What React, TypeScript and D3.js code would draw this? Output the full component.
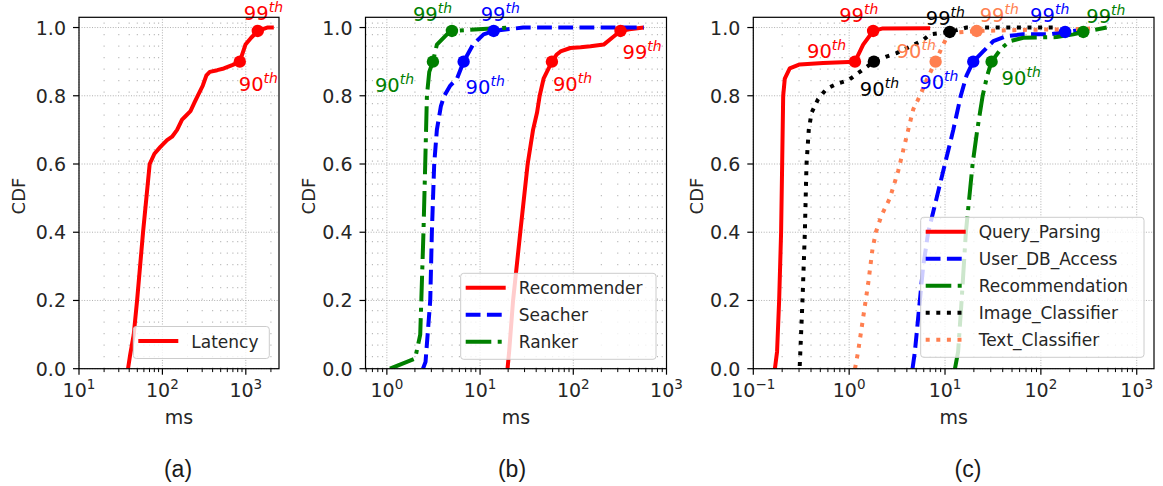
import React from 'react';
import * as d3 from 'd3';

type Pt = [number, number];

// ---------------- DATA ----------------
// Panel (a)
const latency: Pt[] = [
  [38.7, 0], [41, 0.04], [45.3, 0.1], [49.7, 0.2], [58.6, 0.4], [70.4, 0.6], [80.2, 0.63],
  [94.6, 0.65], [113.7, 0.67], [130.6, 0.68], [150, 0.7], [172, 0.73], [189, 0.74],
  [217, 0.755], [242, 0.78], [265, 0.8], [305, 0.83], [337, 0.86], [370, 0.87], [454, 0.875],
  [545, 0.88], [687, 0.89], [847, 0.9], [931, 0.93], [991, 0.95], [1159, 0.97], [1393, 0.99],
  [1803, 1.0], [2167, 1.0],
];
const latencyPct: Pt[] = [[847, 0.9], [1393, 0.99]];

// Panel (b)
const recommender: Pt[] = [
  [19.7, 0], [20.5, 0.05], [22.6, 0.2], [27, 0.4], [32.4, 0.6], [37, 0.7], [40.8, 0.75],
  [43.6, 0.8], [48, 0.85], [59, 0.9], [66, 0.92], [73, 0.93], [93, 0.94], [120, 0.942],
  [153, 0.945], [212, 0.95], [261, 0.97], [321, 0.99], [400, 0.995], [570, 1.0],
];
const recommenderPct: Pt[] = [[59, 0.9], [321, 0.99]];
const searcher: Pt[] = [
  [2.44, 0], [2.6, 0.02], [2.92, 0.2], [3.04, 0.4], [3.22, 0.6], [3.44, 0.7], [3.8, 0.77],
  [4.13, 0.8], [4.79, 0.83], [5.65, 0.85], [6.66, 0.9], [8.4, 0.95], [10.9, 0.98], [14, 0.99],
  [29, 1.0], [570, 1.0],
];
const searcherPct: Pt[] = [[6.66, 0.9], [14, 0.99]];
const ranker: Pt[] = [
  [1.08, 0], [1.64, 0.02], [2.01, 0.03], [2.28, 0.1], [2.47, 0.4], [2.58, 0.6], [2.69, 0.8],
  [2.85, 0.87], [3.12, 0.9], [3.44, 0.95], [4.41, 0.98], [4.99, 0.99], [20.2, 1.0],
];
const rankerPct: Pt[] = [[3.12, 0.9], [4.99, 0.99]];

// Panel (c)
const queryParsing: Pt[] = [
  [0.168, 0], [0.177, 0.05], [0.186, 0.2], [0.195, 0.4], [0.2, 0.6], [0.205, 0.8],
  [0.213, 0.85], [0.24, 0.88], [0.305, 0.892], [0.535, 0.896], [1.15, 0.9], [1.4, 0.95],
  [1.78, 0.99], [2.2, 0.997], [7, 0.998],
];
const queryParsingPct: Pt[] = [[1.15, 0.9], [1.78, 0.99]];
const userDbAccess: Pt[] = [
  [4.58, 0], [4.85, 0.05], [5.25, 0.15], [5.92, 0.3], [6.68, 0.4], [8.17, 0.5], [9.98, 0.6],
  [12.2, 0.7], [14.6, 0.8], [16.8, 0.86], [19.7, 0.9], [25, 0.93], [31.9, 0.96], [44, 0.975],
  [65.5, 0.98], [124, 0.98], [179, 0.987], [301, 0.995],
];
const userDbAccessPct: Pt[] = [[19.7, 0.9], [179, 0.987]];
const recommendation: Pt[] = [
  [12.7, 0], [13.7, 0.05], [14.9, 0.2], [16.5, 0.4], [17.9, 0.5], [19.4, 0.6], [21.7, 0.7],
  [24.7, 0.8], [27.6, 0.86], [30.6, 0.9], [38.9, 0.94], [47.6, 0.96], [65.5, 0.97],
  [146, 0.972], [218, 0.98], [277, 0.987], [486, 1.0],
];
const recommendationPct: Pt[] = [[30.6, 0.9], [277, 0.987]];
const imageClassifier: Pt[] = [
  [0.305, 0.008], [0.326, 0.2], [0.345, 0.4], [0.359, 0.6], [0.379, 0.7], [0.405, 0.75],
  [0.474, 0.79], [0.58, 0.82], [0.738, 0.835], [0.977, 0.845], [1.29, 0.87], [1.81, 0.9],
  [2.45, 0.915], [3.12, 0.925], [4.3, 0.944], [5.9, 0.963], [6.96, 0.98], [11.2, 0.987],
  [16.8, 1.0], [150, 1.0],
];
const imageClassifierPct: Pt[] = [[1.81, 0.9], [11.2, 0.987]];
const textClassifier: Pt[] = [
  [1.15, 0], [1.24, 0.05], [1.4, 0.15], [1.58, 0.25], [1.75, 0.35], [1.9, 0.4], [2.18, 0.45],
  [2.66, 0.5], [3.25, 0.58], [3.97, 0.68], [4.66, 0.76], [5.47, 0.8], [6.52, 0.85],
  [7.98, 0.9], [9.2, 0.94], [10.4, 0.97], [12.2, 0.985], [21.4, 0.99], [65.5, 0.993],
  [201, 0.995], [326, 0.997],
];
const textClassifierPct: Pt[] = [[7.98, 0.9], [21.4, 0.99]];

const yTickValues = [0, 0.2, 0.4, 0.6, 0.8, 1.0];
const yTickLabels = ['0.0', '0.2', '0.4', '0.6', '0.8', '1.0'];
const pctLabels = ['90', '99'];
const captions = ['(a)', '(b)', '(c)'];

// ---------------- STYLE / LAYOUT ----------------
const W = 1163, H = 486;
const Y_TOP = 17.3, Y_BOT = 368.7, Y_MAX = 1.03;
const FONT = "'DejaVu Sans', sans-serif";
const LW = 4;
const DASH: Record<string, string | undefined> = {
  solid: undefined,
  dashed: `${3.7 * LW},${1.6 * LW}`,
  dashdot: `${6.4 * LW},${1.6 * LW},${1 * LW},${1.6 * LW}`,
  dotted: `${1 * LW},${1.65 * LW}`,
};
const RED = '#ff0000', BLUE = '#0000ff', GREEN = '#008000', BLACK = '#000000', CORAL = '#ff7f50';

interface Series { name: string; data: Pt[]; pct: Pt[]; color: string; dash: string; off: [number, number][] }
interface PanelCfg {
  domain: [number, number]; left: number; right: number; ylabelX: number;
  series: Series[]; legend: { x: number; y: number; w: number }; caption: string; captionX: number;
}

const panels: PanelCfg[] = [
  {
    domain: [10, 2500], left: 79, right: 279, ylabelX: 25,
    series: [
      { name: 'Latency', data: latency, pct: latencyPct, color: RED, dash: 'solid', off: [[-1, 29], [-14, -11]] },
    ],
    legend: { x: 133.3, y: 326.5, w: 136 }, caption: captions[0], captionX: 178,
  },
  {
    domain: [0.59, 1000], left: 365.5, right: 666.5, ylabelX: 315,
    series: [
      { name: 'Recommender', data: recommender, pct: recommenderPct, color: RED, dash: 'solid', off: [[1, 29], [2, 28]] },
      { name: 'Seacher', data: searcher, pct: searcherPct, color: BLUE, dash: 'dashed', off: [[2, 32], [-13, -10]] },
      { name: 'Ranker', data: ranker, pct: rankerPct, color: GREEN, dash: 'dashdot', off: [[-58, 30], [-39, -10]] },
    ],
    legend: { x: 460.7, y: 273.3, w: 195.3 }, caption: captions[1], captionX: 512,
  },
  {
    domain: [0.1, 1514], left: 753.3, right: 1154, ylabelX: 703,
    series: [
      { name: 'Query_Parsing', data: queryParsing, pct: queryParsingPct, color: RED, dash: 'solid', off: [[-48, -4], [-34, -9]] },
      { name: 'User_DB_Access', data: userDbAccess, pct: userDbAccessPct, color: BLUE, dash: 'dashed', off: [[-54, 27], [-35, -10]] },
      { name: 'Recommendation', data: recommendation, pct: recommendationPct, color: GREEN, dash: 'dashdot', off: [[10, 23], [3, -9]] },
      { name: 'Image_Classifier', data: imageClassifier, pct: imageClassifierPct, color: BLACK, dash: 'dotted', off: [[-14, 34], [-24, -7]] },
      { name: 'Text_Classifier', data: textClassifier, pct: textClassifierPct, color: CORAL, dash: 'dotted', off: [[-39, -4], [3, -9]] },
    ],
    legend: { x: 920.7, y: 217.3, w: 223.3 }, caption: captions[2], captionX: 968,
  },
];

function Panel({ p, idx }: { p: PanelCfg; idx: number }) {
  const x = d3.scaleLog().domain(p.domain).range([p.left, p.right]);
  const y = d3.scaleLinear().domain([0, Y_MAX]).range([Y_BOT, Y_TOP]);
  const lo = Math.floor(Math.log10(p.domain[0]));
  const hi = Math.ceil(Math.log10(p.domain[1]));
  const majors: number[] = [];
  const minors: number[] = [];
  for (let d = lo; d <= hi; d++) {
    const v = Math.pow(10, d);
    if (v >= p.domain[0] * 0.999 && v <= p.domain[1] * 1.001) majors.push(d);
    for (let k = 2; k <= 9; k++) {
      const m = k * v;
      if (m > p.domain[0] && m < p.domain[1]) minors.push(m);
    }
  }
  const line = d3.line<Pt>().x(d => x(d[0])).y(d => y(d[1]));
  const clipId = `clip${idx}`;
  const cx = (p.left + p.right) / 2;
  const lg = p.legend;
  const rowH = 27;
  const lgH = 14.5 + (p.series.length - 1) * rowH + 17.5;

  return (
    <g>
      <defs>
        <clipPath id={clipId}>
          <rect x={p.left} y={Y_TOP} width={p.right - p.left} height={Y_BOT - Y_TOP} />
        </clipPath>
      </defs>
      {/* minor grid */}
      {minors.map((m, i) => (
        <line key={'mg' + i} x1={x(m)} x2={x(m)} y1={Y_BOT} y2={Y_TOP} stroke="#b8b8b8" strokeWidth={1.1} strokeDasharray="1.2,10.3" />
      ))}
      {/* major grid */}
      {majors.map(d => (
        <line key={'gx' + d} x1={x(Math.pow(10, d))} x2={x(Math.pow(10, d))} y1={Y_BOT} y2={Y_TOP} stroke="#b0b0b0" strokeWidth={1} strokeDasharray="1,1.6" />
      ))}
      {yTickValues.map((v, i) => (
        <line key={'gy' + i} x1={p.left} x2={p.right} y1={y(v)} y2={y(v)} stroke="#b0b0b0" strokeWidth={1} strokeDasharray="1,1.6" />
      ))}
      {/* series */}
      <g clipPath={`url(#${clipId})`}>
        {p.series.map(s => (
          <path key={s.name} d={line(s.data) || ''} fill="none" stroke={s.color} strokeWidth={LW}
            strokeDasharray={DASH[s.dash]} strokeLinejoin="round" />
        ))}
      </g>
      {p.series.map(s => s.pct.map((pt, j) => (
        <circle key={s.name + 'm' + j} cx={x(pt[0])} cy={y(pt[1])} r={6.2} fill={s.color} />
      )))}
      {p.series.map(s => s.pct.map((pt, j) => (
        <text key={s.name + 't' + j} x={x(pt[0]) + s.off[j][0]} y={y(pt[1]) + s.off[j][1]} fill={s.color} fontSize={19.5}>
          {pctLabels[j]}
          <tspan fontSize={14} fontStyle="italic" dy={-7.5}>th</tspan>
        </text>
      )))}
      {/* legend */}
      <rect x={lg.x} y={lg.y} width={lg.w} height={lgH} rx={3} fill="#ffffff" fillOpacity={0.8} stroke="#cccccc" strokeWidth={1} />
      {p.series.map((s, i) => {
        const cy = lg.y + 14.5 + i * rowH;
        return (
          <g key={'lg' + s.name}>
            <line x1={lg.x + 5} x2={lg.x + 45} y1={cy} y2={cy} stroke={s.color} strokeWidth={LW} strokeDasharray={DASH[s.dash]} />
            <text x={lg.x + 58} y={cy + 6.5} fontSize={17} fill="#262626">{s.name}</text>
          </g>
        );
      })}
      {/* spines */}
      <rect x={p.left} y={Y_TOP} width={p.right - p.left} height={Y_BOT - Y_TOP} fill="none" stroke="#000" strokeWidth={1.2} />
      {/* y ticks */}
      {yTickValues.map((v, i) => (
        <g key={'yt' + i}>
          <line x1={p.left - 6} x2={p.left} y1={y(v)} y2={y(v)} stroke="#000" strokeWidth={1.2} />
          <text x={p.left - 13} y={y(v) + 7} fontSize={19} textAnchor="end" fill="#262626">{yTickLabels[i]}</text>
        </g>
      ))}
      {/* x ticks */}
      {minors.map((m, i) => (
        <line key={'mt' + i} x1={x(m)} x2={x(m)} y1={Y_BOT} y2={Y_BOT + 3.4} stroke="#000" strokeWidth={1} />
      ))}
      {majors.map(d => (
        <g key={'xt' + d}>
          <line x1={x(Math.pow(10, d))} x2={x(Math.pow(10, d))} y1={Y_BOT} y2={Y_BOT + 6} stroke="#000" strokeWidth={1.2} />
          <text x={x(Math.pow(10, d))} y={Y_BOT + 28.5} fontSize={19} textAnchor="middle" fill="#262626">
            10<tspan fontSize={13.5} dy={-8.5}>{d < 0 ? '\u2212' + Math.abs(d) : String(d)}</tspan>
          </text>
        </g>
      ))}
      {/* axis labels */}
      <text x={cx} y={424} fontSize={19} textAnchor="middle" fill="#262626">ms</text>
      <text transform={`translate(${p.ylabelX},${(Y_TOP + Y_BOT) / 2 + 3}) rotate(-90)`} fontSize={18} textAnchor="middle" fill="#262626">CDF</text>
      <text x={p.captionX} y={477} fontSize={23} textAnchor="middle" fill="#1a1a1a" fontFamily="'Liberation Sans', sans-serif">{p.caption}</text>
    </g>
  );
}

export default function App() {
  return (
    <svg width={W} height={H} fontFamily={FONT} style={{ position: 'absolute', left: 0, top: 0, background: '#fff' }}>
      <rect width={W} height={H} fill="#ffffff" />
      {panels.map((p, i) => <Panel key={i} p={p} idx={i} />)}
    </svg>
  );
}
